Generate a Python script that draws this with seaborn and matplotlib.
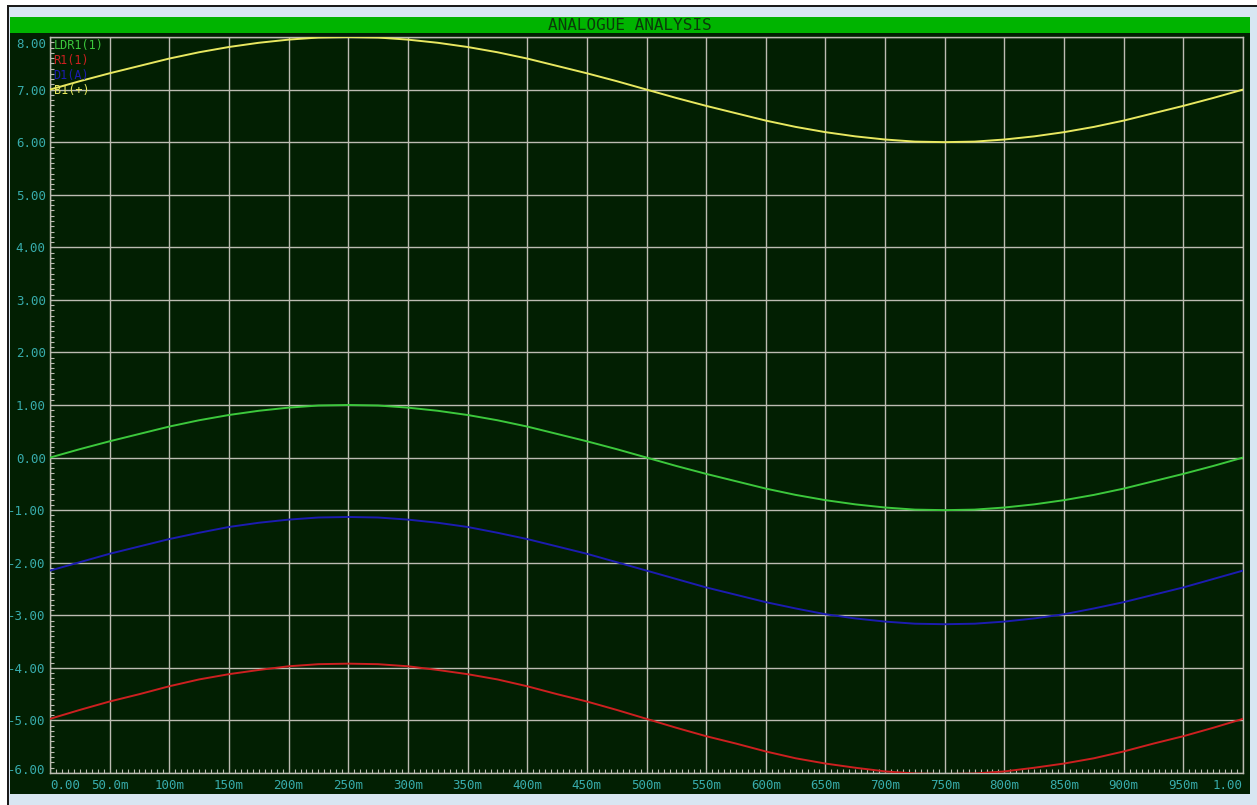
import numpy as np
import pandas as pd
import matplotlib
matplotlib.use("Agg")
import matplotlib.pyplot as plt
from matplotlib.patches import Rectangle
from matplotlib.ticker import MultipleLocator, FixedLocator
import matplotlib.transforms as mtransforms
import seaborn as sns

# ---- data ----
time_s = [i * 0.025 for i in range(41)]
ldr1 = [0.00, 0.16, 0.31, 0.45, 0.59, 0.71, 0.81, 0.89, 0.95, 0.99, 1.00, 0.99, 0.95, 0.89, 0.81, 0.71, 0.59, 0.45, 0.31, 0.16,
        0.00, -0.16, -0.31, -0.45, -0.59, -0.71, -0.81, -0.89, -0.95, -0.99, -1.00, -0.99, -0.95, -0.89, -0.81, -0.71, -0.59, -0.45, -0.31, -0.16, 0.00]
b1 = [7.00, 7.16, 7.31, 7.45, 7.59, 7.71, 7.81, 7.89, 7.95, 7.99, 8.00, 7.99, 7.95, 7.89, 7.81, 7.71, 7.59, 7.45, 7.31, 7.16,
      7.00, 6.84, 6.69, 6.55, 6.41, 6.29, 6.19, 6.11, 6.05, 6.01, 6.00, 6.01, 6.05, 6.11, 6.19, 6.29, 6.41, 6.55, 6.69, 6.84, 7.00]
d1 = [-2.15, -1.99, -1.83, -1.69, -1.55, -1.43, -1.32, -1.24, -1.18, -1.14, -1.13, -1.14, -1.18, -1.24, -1.32, -1.43, -1.55, -1.69, -1.83, -1.99,
      -2.15, -2.31, -2.47, -2.61, -2.75, -2.87, -2.98, -3.06, -3.12, -3.16, -3.17, -3.16, -3.12, -3.06, -2.98, -2.87, -2.75, -2.61, -2.47, -2.31, -2.15]
r1 = [-4.97, -4.80, -4.64, -4.50, -4.35, -4.22, -4.12, -4.04, -3.97, -3.93, -3.92, -3.93, -3.97, -4.04, -4.12, -4.22, -4.35, -4.50, -4.64, -4.80,
      -4.97, -5.14, -5.30, -5.44, -5.59, -5.72, -5.82, -5.90, -5.97, -6.01, -6.02, -6.01, -5.97, -5.90, -5.82, -5.72, -5.59, -5.44, -5.30, -5.14, -4.97]

series_names = ["LDR1(1)", "R1(1)", "D1(A)", "B1(+)"]
series_colors = ["#3cc83c", "#cc2020", "#1c1cb0", "#e8e860"]

y_ticks = [8, 7, 6, 5, 4, 3, 2, 1, 0, -1, -2, -3, -4, -5, -6]
y_labels = ["8.00", "7.00", "6.00", "5.00", "4.00", "3.00", "2.00", "1.00", "0.00",
            "-1.00", "-2.00", "-3.00", "-4.00", "-5.00", "-6.00"]
x_ticks = [i * 0.05 for i in range(21)]
x_labels = ["0.00", "50.0m", "100m", "150m", "200m", "250m", "300m", "350m", "400m", "450m", "500m",
            "550m", "600m", "650m", "700m", "750m", "800m", "850m", "900m", "950m", "1.00"]
title = "ANALOGUE ANALYSIS"

df = pd.DataFrame({"t": time_s * 4,
                   "v": ldr1 + r1 + d1 + b1,
                   "trace": sum([[n] * len(time_s) for n in series_names], [])})

# ---- figure ----
W, H = 1257, 805
fig = plt.figure(figsize=(W / 100, H / 100), dpi=100, facecolor="white")

def fr(x0, y0, x1, y1, color, z):
    fig.patches.append(Rectangle((x0 / W, 1 - y1 / H), (x1 - x0) / W, (y1 - y0) / H,
                                 transform=fig.transFigure, facecolor=color, edgecolor="none", zorder=z))

BG = "#021f02"
fr(7, 5, W, H, "#1a1a1a", -5)
fr(9, 7, W, H, "#d8e6f2", -4)
fr(10, 33, 1250, 794, BG, -3)
fr(10, 17, 1250, 33, "#00b400", -3)
fig.text((10 + 1250) / 2 / W, 1 - 25.5 / H, title, ha="center", va="center",
         family="DejaVu Sans Mono", fontsize=11.5, color="#0a3a0a", zorder=5)

ax = fig.add_axes([50 / W, 1 - 773 / H, (1243 - 50) / W, (773 - 37) / H])
ax.set_facecolor(BG)

sns.lineplot(data=df, x="t", y="v", hue="trace", palette=dict(zip(series_names, series_colors)),
             ax=ax, legend=False, linewidth=1.4, zorder=3, estimator=None)

ax.set_xlim(0, 1)
ax.set_ylim(-6, 8)
ax.xaxis.set_major_locator(FixedLocator(x_ticks))
ax.yaxis.set_major_locator(FixedLocator(y_ticks))
ax.set_xticklabels(x_labels)
ax.set_yticklabels(y_labels)
ax.xaxis.set_minor_locator(MultipleLocator(0.005))
ax.yaxis.set_minor_locator(MultipleLocator(0.1))
GRID = "#bcbcb2"
ax.grid(True, which="major", color=GRID, linewidth=1.0, zorder=1)
ax.set_axisbelow(True)
for s in ax.spines.values():
    s.set_color(GRID)
    s.set_linewidth(1.0)
ax.tick_params(axis="both", which="major", length=0, colors="#38acac", labelsize=9)
ax.tick_params(axis="both", which="minor", direction="in", length=3, color=GRID, width=0.8)
ax.tick_params(axis="y", which="major", pad=3)
ax.tick_params(axis="x", which="major", pad=4)
xt = ax.get_xticklabels()
yt = ax.get_yticklabels()
for lab in xt + yt:
    lab.set_family("DejaVu Sans Mono")
# end labels are pushed inside, as in the reference
xt[0].set_ha("left")
xt[-1].set_ha("right")
yt[0].set_transform(yt[0].get_transform() + mtransforms.ScaledTranslation(0, -6 / 100, fig.dpi_scale_trans))
yt[-1].set_transform(yt[-1].get_transform() + mtransforms.ScaledTranslation(0, 4 / 100, fig.dpi_scale_trans))
ax.set_xlabel("")
ax.set_ylabel("")

# legend as coloured text in the top-left corner
for i, (name, col) in enumerate(zip(series_names, series_colors)):
    ax.text(0.003, 0.997 - i * 0.0205, name, transform=ax.transAxes, ha="left", va="top",
            family="DejaVu Sans Mono", fontsize=8.5, color=col, zorder=6)

fig.savefig("out.png", dpi=100, facecolor=fig.get_facecolor())
